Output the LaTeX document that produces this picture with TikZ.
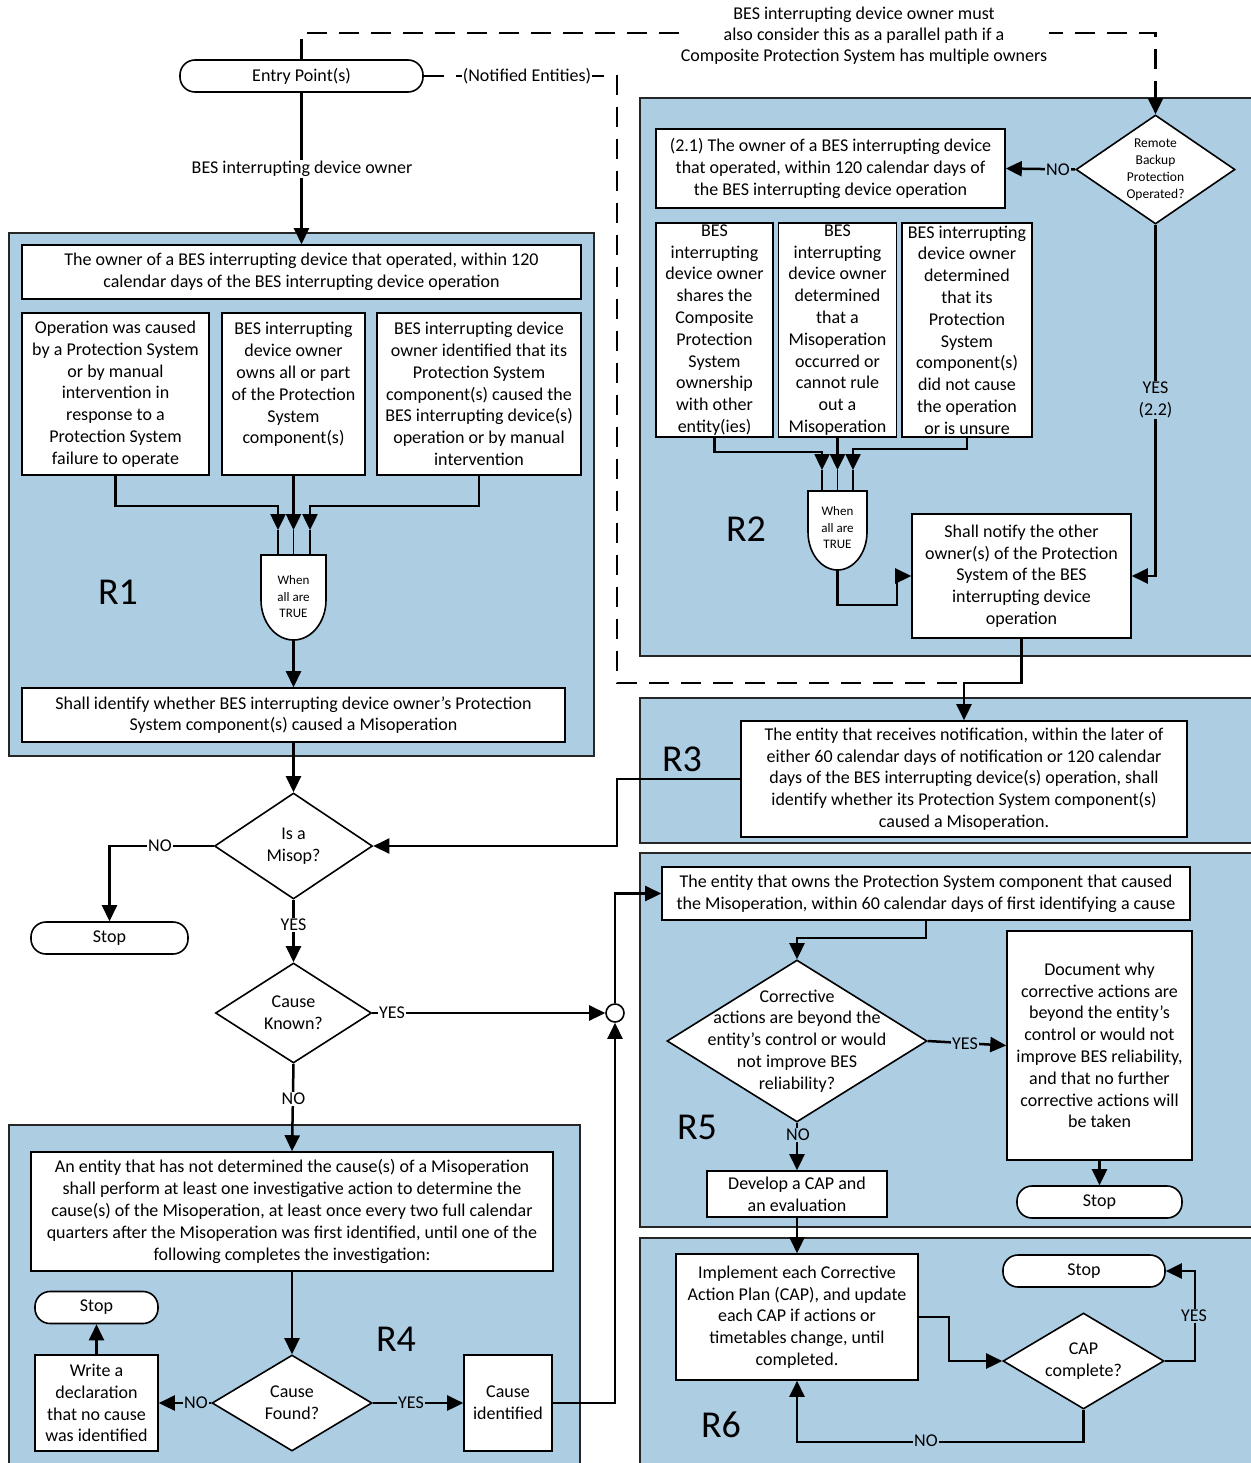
\documentclass[tikz,border=0pt]{standalone}
\usepackage{fontspec}
\setmainfont{Carlito}
\usetikzlibrary{shapes.geometric,arrows.meta}
\definecolor{panelblue}{RGB}{173,205,227}
\newcommand\bodyfont{\fontsize{18}{21.8}\selectfont}
\newcommand\gatefont{\fontsize{13}{16.5}\selectfont}
\newcommand\smallfont{\fontsize{13.5}{17}\selectfont}
\begin{document}
\begin{tikzpicture}[x=1pt,y=-1pt,
  panel/.style={draw=black!85, fill=panelblue, line width=1.4pt},
  bx/.style 2 args={draw, fill=white, line width=1.6pt, align=center, inner sep=0pt,
    font=\bodyfont, minimum width=#1, minimum height=#2},
  term/.style={draw, fill=white, line width=1.6pt, rounded corners=15pt, inner sep=0pt,
    font=\bodyfont, minimum width=#1, minimum height=32pt},
  dia/.style 2 args={diamond, draw, fill=white, line width=1.6pt, inner sep=0pt,
    minimum width=#1, minimum height=#2},
  dtxt/.style={align=center, font=\bodyfont, inner sep=0pt},
  gate/.style={draw, fill=white, line width=1.6pt},
  gtxt/.style={align=center, font=\gatefont, inner sep=0pt},
  conn/.style={line width=2.5pt, -{Triangle[length=16pt,width=15pt]}},
  thinln/.style={line width=1.8pt},
  dashln/.style={line width=2.5pt, dash pattern=on 20pt off 12pt},
  lbl/.style={fill=white, inner sep=1pt, font=\bodyfont, align=center},
  lblb/.style={lbl, fill=panelblue},
  rlab/.style={font=\fontsize{38}{40}\selectfont, inner sep=0pt}
]
\useasboundingbox (0,0) rectangle (1250,1463);

% ---------- panels ----------
\draw[panel] (9,233) rectangle (594,756);
\draw[panel] (640,98) rectangle (1262,656);
\draw[panel] (640,698) rectangle (1262,843);
\draw[panel] (640,853) rectangle (1262,1227);
\draw[panel] (640,1238) rectangle (1262,1480);
\draw[panel] (9,1125) rectangle (580,1480);

\node[rlab] (lR1) at (118,592) {R1};
\node[rlab] (lR2) at (746,529) {R2};
\node[rlab] (lR3) at (682,759) {R3};
\node[rlab] (lR4) at (396,1339) {R4};
\node[rlab] (lR5) at (697,1127) {R5};
\node[rlab] (lR6) at (721,1425) {R6};

% ---------- nodes ----------
\node[term=243pt] (entry) at (301.5,76) {Entry Point(s)};

% R1
\node[bx={559pt}{54pt}] (r1top) at (301.5,272) {The owner of a BES interrupting device that operated, within 120\\calendar days of the BES interrupting device operation};
\node[bx={187pt}{162pt}] (r1a) at (115.5,394) {Operation was caused\\by a Protection System\\or by manual\\intervention in\\response to a\\Protection System\\failure to operate};
\node[bx={143pt}{162pt}] (r1b) at (293.5,394) {BES interrupting\\device owner\\owns all or part\\of the Protection\\System\\component(s)\\~};
\node[bx={204pt}{162pt}] (r1c) at (479,394) {BES interrupting device\\owner identified that its\\Protection System\\component(s) caused the\\BES interrupting device(s)\\operation or by manual\\intervention};
\draw[gate] (261,555) -- (261,600) arc[start angle=180, end angle=360, x radius=32.5pt, y radius=40pt] -- (326,555) -- cycle;
\node[gtxt] (g1) at (293.5,597) {When\\all are\\TRUE};
\coordinate (g1bot) at (293.5,640);
\coordinate (g1ia) at (278,530);
\coordinate (g1ib) at (293.5,530);
\coordinate (g1ic) at (310,530);
\node[bx={543pt}{54pt}] (r1out) at (293.5,715) {Shall identify whether BES interrupting device owner’s Protection\\System component(s) caused a Misoperation};

% middle left
\node[dia={158pt}{106pt}, label={[dtxt]center:Is a\\Misop?}] (misop) at (293.5,846) {};
\node[term=157pt] (stop1) at (109.5,938) {Stop};
\node[dia={156pt}{100pt}, label={[dtxt]center:Cause\\Known?}] (known) at (293.5,1013) {};
\node[circle, draw, fill=white, line width=1.6pt, minimum size=18pt, inner sep=0pt] (circ) at (615,1013) {};

% R4
\node[bx={522pt}{119pt}] (r4box) at (292,1211.5) {An entity that has not determined the cause(s) of a Misoperation\\shall perform at least one investigative action to determine the\\cause(s) of the Misoperation, at least once every two full calendar\\quarters after the Misoperation was first identified, until one of the\\following completes the investigation:};
\node[dia={160pt}{96pt}, label={[dtxt]center:Cause\\Found?}] (found) at (292,1403) {};
\node[bx={123pt}{96pt}] (decl) at (96.5,1403) {Write a\\declaration\\that no cause\\was identified};
\node[term=123pt] (stop2) at (96.5,1307.5) {Stop};
\node[bx={88pt}{96pt}] (causeid) at (508,1403) {Cause\\identified};

% R2
\node[dia={159pt}{109pt}, label={[dtxt, font=\smallfont]center:Remote\\Backup\\Protection\\Operated?}] (remote) at (1155.5,169.5) {};
\node[bx={349pt}{79pt}] (r21) at (830.5,168.5) {(2.1) The owner of a BES interrupting device\\that operated, within 120 calendar days of\\the BES interrupting device operation};
\node[bx={117pt}{214pt}] (r2a) at (714.5,330) {BES\\interrupting\\device owner\\shares the\\Composite\\Protection\\System\\ownership\\with other\\entity(ies)};
\node[bx={118pt}{214pt}] (r2b) at (837.5,330) {BES\\interrupting\\device owner\\determined\\that a\\Misoperation\\occurred or\\cannot rule\\out a\\Misoperation};
\node[bx={130pt}{214pt}] (r2c) at (967,330) {BES interrupting\\device owner\\determined\\that its\\Protection\\System\\component(s)\\did not cause\\the operation\\or is unsure};
\draw[gate] (808,491) -- (808,532) arc[start angle=180, end angle=360, x radius=29.5pt, y radius=38pt] -- (867,491) -- cycle;
\node[gtxt] (g2) at (837.5,528) {When\\all are\\TRUE};
\coordinate (g2bot) at (837.5,570);
\coordinate (g2ia) at (822,470);
\coordinate (g2ib) at (837.5,470);
\coordinate (g2ic) at (853,470);
\node[bx={219pt}{124pt}] (notify) at (1021.5,576) {Shall notify the other\\owner(s) of the Protection\\System of the BES\\interrupting device\\operation};

% R3
\node[bx={446pt}{116pt}] (r3box) at (964,779) {The entity that receives notification, within the later of\\either 60 calendar days of notification or 120 calendar\\days of the BES interrupting device(s) operation, shall\\identify whether its Protection System component(s)\\caused a Misoperation.};

% R5
\node[bx={528pt}{53pt}] (r5top) at (926,893.5) {The entity that owns the Protection System component that caused\\the Misoperation, within 60 calendar days of first identifying a cause};
\node[dia={260pt}{162pt}, label={[dtxt]center:Corrective\\actions are beyond the\\entity’s control or would\\not improve BES\\reliability?}] (corr) at (797,1041) {};
\node[bx={185pt}{229pt}] (doc) at (1099.5,1045.5) {Document why\\corrective actions are\\beyond the entity’s\\control or would not\\improve BES reliability,\\and that no further\\corrective actions will\\be taken};
\node[term=165pt] (stop3) at (1099.5,1202) {Stop};
\node[bx={180pt}{46pt}] (develop) at (797,1194) {Develop a CAP and\\an evaluation};

% R6
\node[bx={242pt}{126pt}] (impl) at (797,1317) {Implement each Corrective\\Action Plan (CAP), and update\\each CAP if actions or\\timetables change, until\\completed.};
\node[dia={161pt}{96pt}, label={[dtxt]center:CAP\\complete?}] (cap) at (1083.5,1361) {};
\node[term=162pt] (stop4) at (1084,1271) {Stop};

% ---------- dashed paths ----------
\coordinate (dtop) at (1155.5,100);
\draw[dashln] (entry.north) -- (301.5,33) -- (1155.5,33) -- (dtop);
\draw[conn] (dtop) -- (remote.north);
\node[fill=white, inner sep=2pt, align=center, font=\fontsize{18}{21}\selectfont] (ptext) at (864,36) {BES interrupting device owner must\\also consider this as a parallel path if a\\Composite Protection System has multiple owners};
\draw[dashln] (entry.east) -- (617,76) -- (617,683) -- (963,683);
\node[lbl] (notif) at (527,76) {(Notified Entities)};

% ---------- connectors ----------
\draw[conn] (entry.south) -- (r1top.north);
\node[lbl] (bes) at (302,169) {BES interrupting device owner};

\draw[conn] (r1a.south) -- ++(0,30) -| (g1ia);
\draw[conn] (r1b.south) -- (g1ib);
\draw[conn] (r1c.south) -- ++(0,30) -| (g1ic);
\draw[thinln] (g1ia) -- ++(0,25);
\draw[thinln] (g1ib) -- ++(0,25);
\draw[thinln] (g1ic) -- ++(0,25);
\draw[conn] (g1bot) -- (r1out.north);
\draw[conn] (r1out.south) -- (misop.north);

\draw[conn] (misop.west) -| (stop1.north);
\draw[conn] (misop.south) -- (known.north);
\draw[conn] (known.east) -- (circ.west);
\draw[conn] (known.south) -- (r4box.north);
\draw[conn] (circ.north) |- (r5top.west);
\draw[conn] (causeid.east) -| (circ.south);

\draw[conn] (r4box.south) -- (found.north);
\draw[conn] (found.west) -- (decl.east);
\draw[conn] (found.east) -- (causeid.west);
\draw[conn] (decl.north) -- (stop2.south);

\draw[conn] (remote.west) -- (r21.east);
\draw[conn] (remote.south) |- (notify.east);
\draw[conn] (r2a.south) -- ++(0,14) -| (g2ia);
\draw[conn] (r2b.south) -- (g2ib);
\draw[conn] (r2c.south) -- ++(0,11) -| (g2ic);
\draw[thinln] (g2ia) -- ++(0,21);
\draw[thinln] (g2ib) -- ++(0,21);
\draw[thinln] (g2ic) -- ++(0,21);
\draw[conn] (g2bot) -- (837.5,605) -- (897,605) -- (897,576) -- (notify.west);
\draw[conn] (notify.south) -- (1021.5,683) -| (r3box.north);
\draw[conn] (r3box.west) -- (617,779) |- (misop.east);

\draw[conn] (r5top.south) -- ++(0,17) -| (corr.north);
\draw[conn] (corr.east) -- (doc.west);
\draw[conn] (doc.south) -- (stop3.north);
\draw[conn] (corr.south) -- (develop.north);
\draw[conn] (develop.south) -- (impl.north);

\draw[conn] (impl.east) -- ++(30,0) |- (cap.west);
\draw[conn] (cap.east) -- ++(30,0) |- (stop4.east);
\draw[conn] (cap.south) -- ++(0,32) -| (impl.south);

% ---------- connector labels ----------
\node[lbl] (l1) at (160,846) {NO};
\node[lbl] (l2) at (293.5,925) {YES};
\node[lbl] (l3) at (392,1013) {YES};
\node[lbl] (l4) at (293.5,1099) {NO};
\node[lblb] (l5) at (196,1403) {NO};
\node[lblb] (l6) at (411,1403) {YES};
\node[lblb] (l7) at (1058,170) {NO};
\node[lblb] (l8) at (1155.5,400) {YES\\(2.2)};
\node[lblb] (l9) at (965,1044) {YES};
\node[lblb] (l10) at (798,1135) {NO};
\node[lblb] (l11) at (1194,1316) {YES};
\node[lblb] (l12) at (926,1441) {NO};
\end{tikzpicture}
\end{document}
